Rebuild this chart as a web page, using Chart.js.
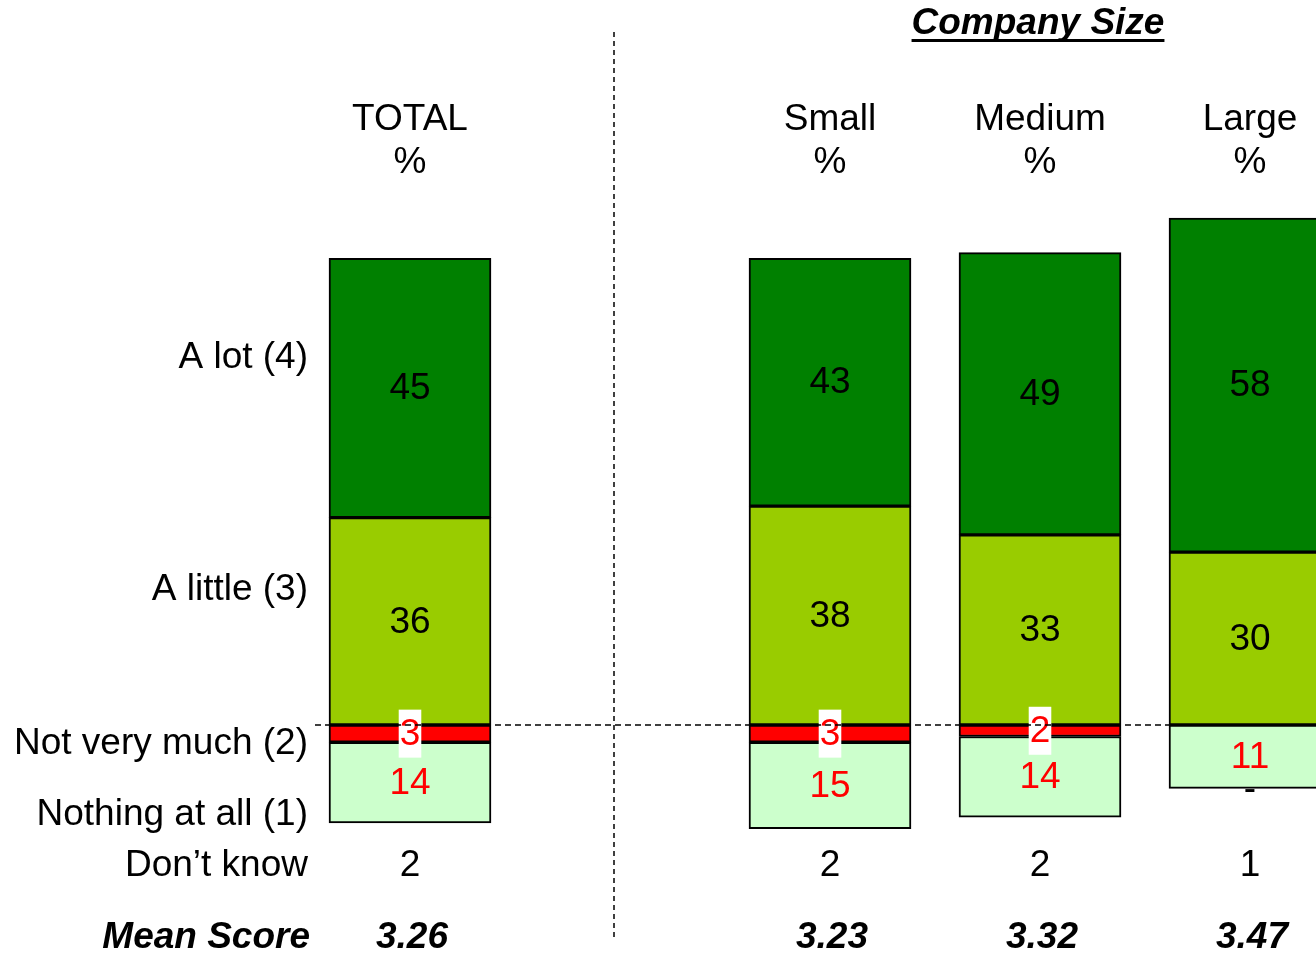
<!DOCTYPE html>
<html>
<head>
<meta charset="utf-8">
<script src="https://cdn.jsdelivr.net/npm/chart.js@4"></script>
<style>
  html, body { margin: 0; padding: 0; background: #fff; overflow: hidden; }
  /* the last column runs off the right edge, so the canvas is wider than the page */
  #wrap { width: 1316px; height: 953px; overflow: hidden; }
</style>
</head>
<body>
<div id="wrap"><canvas id="chart" width="1355" height="953"></canvas></div>
<script>
// columns (the empty one is the gap between TOTAL and the company sizes)
let columns = ["TOTAL", "", "Small", "Medium", "Large"];

let aLot = [45, null, 43, 49, 58];
let aLittle = [36, null, 38, 33, 30];
let notVeryMuch = [-3, null, -3, -2, 0];
let nothingAtAll = [-14, null, -15, -14, -11];

let dontKnow = ["2", null, "2", "2", "1"];
let meanScore = ["3.26", null, "3.23", "3.32", "3.47"];

let rowLabels = ["A lot (4)", "A little (3)", "Not very much (2)", "Nothing at all (1)", "Don\u2019t know", "Mean Score"];

const FONT = "Liberation Sans, Arial, sans-serif";

//! labels on the segments + the text round the chart
const textPlugin = {
  id: "textPlugin",
  afterDatasetsDraw(chart) {
    const ctx = chart.ctx;
    ctx.save();
    ctx.font = "37px " + FONT;
    ctx.textAlign = "center";
    ctx.textBaseline = "middle";
    chart.data.datasets.forEach((ds, di) => {
      const meta = chart.getDatasetMeta(di);
      meta.data.forEach((bar, i) => {
        const v = ds.data[i];
        if (v === null) return;
        const cy = (bar.y + bar.base) / 2 + 1;
        if (v === 0) {
          // zero answers shown as a dash under the bar
          const last = chart.getDatasetMeta(chart.data.datasets.length - 1).data[i];
          ctx.fillStyle = "#000";
          ctx.fillText("-", bar.x, last.y + 1);
          return;
        }
        const txt = String(Math.abs(v));
        if (ds.boxed) {
          const w = ctx.measureText(txt).width + 2;
          ctx.fillStyle = "#fff";
          ctx.fillRect(bar.x - w / 2, cy - 25, w, 48);
        }
        ctx.fillStyle = ds.labelColor;
        ctx.fillText(txt, bar.x, cy);
      });
    });
    ctx.restore();
  },
  afterDraw(chart) {
    const ctx = chart.ctx;
    const x = chart.scales.x;
    const y = chart.scales.y;
    ctx.save();

    // dashed zero line and the divider
    ctx.strokeStyle = "#000";
    ctx.lineWidth = 1.5;
    ctx.setLineDash([6, 4]);
    ctx.beginPath();
    ctx.moveTo(315, y.getPixelForValue(0));
    ctx.lineTo(chart.width, y.getPixelForValue(0));
    ctx.stroke();
    ctx.setLineDash([5, 4]);
    ctx.beginPath();
    ctx.moveTo(614, 32);
    ctx.lineTo(614, 937);
    ctx.stroke();
    ctx.setLineDash([]);

    ctx.fillStyle = "#000";
    ctx.textBaseline = "middle";

    // column heads
    ctx.font = "37px " + FONT;
    ctx.textAlign = "center";
    columns.forEach((c, i) => {
      if (!c) return;
      const px = x.getPixelForValue(i);
      ctx.fillText(c, px, 120);
      ctx.fillText("%", px, 163);
    });

    // group title, underlined
    ctx.font = "italic bold 37px " + FONT;
    const title = "Company Size";
    const tx = 1038;
    ctx.fillText(title, tx, 24);
    const tw = ctx.measureText(title).width;
    ctx.fillRect(tx - tw / 2, 39, tw, 3);

    // row labels on the left
    ctx.textAlign = "right";
    ctx.font = "37px " + FONT;
    const rowY = [358, 590, 744, 815, 866];
    rowY.forEach((ry, i) => ctx.fillText(rowLabels[i], 308, ry));
    ctx.font = "italic bold 37px " + FONT;
    ctx.fillText(rowLabels[5], 310, 938);

    // don't know + mean score rows
    ctx.textAlign = "center";
    columns.forEach((c, i) => {
      if (!c) return;
      const px = x.getPixelForValue(i);
      ctx.font = "37px " + FONT;
      ctx.fillText(dontKnow[i], px, 866);
      ctx.font = "italic bold 37px " + FONT;
      ctx.fillText(meanScore[i], px + 2, 938);
    });

    ctx.restore();
  }
};

let barcht = document.getElementById("chart").getContext("2d");

let MyBarChart = new Chart(barcht, {
  type: "bar",
  data: {
    labels: columns,
    datasets: [
      {
        label: "A little (3)",
        data: aLittle,
        backgroundColor: "#99CC00",
        labelColor: "#000",
      },
      {
        label: "A lot (4)",
        data: aLot,
        backgroundColor: "#008000",
        labelColor: "#000",
      },
      {
        label: "Not very much (2)",
        data: notVeryMuch,
        backgroundColor: "#FF0000",
        labelColor: "#FF0000",
        boxed: true,
      },
      {
        label: "Nothing at all (1)",
        data: nothingAtAll,
        backgroundColor: "#CCFFCC",
        labelColor: "#FF0000",
      },
    ],
  },
  options: {
    responsive: false,
    animation: false,
    layout: { padding: { left: 305, right: 0, top: 149, bottom: 26.4 } },
    datasets: {
      bar: {
        barThickness: 162,
        borderColor: "#000",
        borderWidth: 2,
        borderSkipped: false,
      },
    },
    scales: {
      x: { display: false, stacked: true },
      y: { display: false, stacked: true, min: -35, max: 100 },
    },
    plugins: {
      legend: { display: false },
      tooltip: { enabled: false },
    },
  },
  plugins: [textPlugin],
});
</script>
</body>
</html>
